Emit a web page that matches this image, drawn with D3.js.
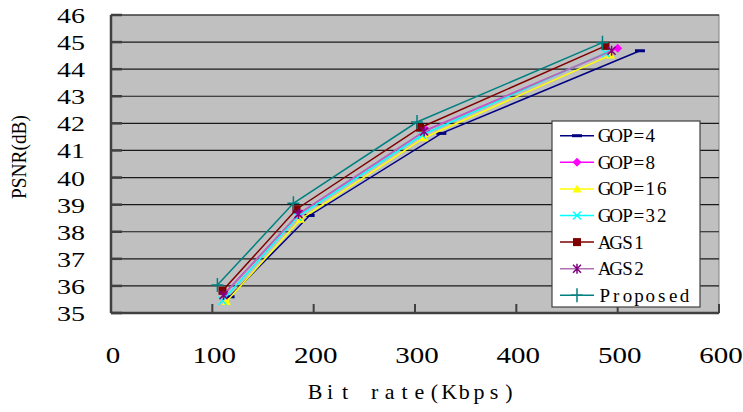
<!DOCTYPE html>
<html>
<head>
<meta charset="utf-8">
<script src="https://cdn.jsdelivr.net/npm/d3@7"></script>
<style>
  html, body { margin: 0; padding: 0; background: #fff; }
  svg { display: block; }
  .serif { font-family: "Liberation Serif", "Times New Roman", "DejaVu Serif", serif; }
</style>
</head>
<body>
<svg id="chart" width="743" height="412"></svg>
<script>
// ---- data ----
const xTicks = [0, 100, 200, 300, 400, 500, 600];
const yTicks = [35, 36, 37, 38, 39, 40, 41, 42, 43, 44, 45, 46];
const seriesNames = ["GOP=4", "GOP=8", "GOP=16", "GOP=32", "AGS1", "AGS2", "Proposed"];
const gop4X = [117, 196, 326, 522];
const gop4Y = [35.60, 38.60, 41.63, 44.68];
const gop8X = [112, 186, 311, 500];
const gop8Y = [35.72, 38.68, 41.75, 44.77];
const gop16X = [114, 187, 309, 493];
const gop16Y = [35.42, 38.46, 41.47, 44.52];
const gop32X = [110, 184, 307, 488];
const gop32Y = [35.45, 38.55, 41.57, 44.60];
const ags1X = [110, 183, 305, 488];
const ags1Y = [35.82, 38.83, 41.84, 44.86];
const ags2X = [111, 185, 309, 494];
const ags2Y = [35.66, 38.65, 41.70, 44.68];
const propX = [105, 180, 302, 485];
const propY = [36.03, 39.05, 42.05, 44.98];

const seriesX = [gop4X, gop8X, gop16X, gop32X, ags1X, ags2X, propX];
const seriesY = [gop4Y, gop8Y, gop16Y, gop32Y, ags1Y, ags2Y, propY];

// ---- styles ----
const lineColors = ["#000080", "#FF00FF", "#FFFF00", "#00FFFF", "#800000", "#B070B0", "#008080"];
const markColors = ["#000080", "#FF00FF", "#FFFF00", "#00FFFF", "#800000", "#800080", "#008080"];
const markTypes = ["dash", "diamond", "triangle", "x", "square", "star", "plus"];

const svg = d3.select("#chart");
const pLeft = 111, pRight = 719, pTop = 15, pBottom = 313;
const x = d3.scaleLinear().domain([0, 600]).range([pLeft, pRight]);
const y = d3.scaleLinear().domain([35, 46]).range([pBottom, pTop]);

// monospaced (half-width cell) text, like a CJK font's Latin glyphs
function monoText(parent, str, x0, baseline, cell, size) {
  const t = parent.append("text").attr("class", "serif")
    .attr("font-size", size).attr("y", baseline).attr("text-anchor", "middle").attr("fill", "#000");
  str.split("").forEach((ch, i) => {
    t.append("tspan").attr("x", x0 + i * cell + cell / 2).text(ch);
  });
  return t;
}

// plot area
svg.append("rect").attr("x", pLeft).attr("y", pTop)
  .attr("width", pRight - pLeft).attr("height", pBottom - pTop)
  .attr("fill", "#C0C0C0").attr("stroke", "#808080").attr("stroke-width", 1);

// gridlines
svg.append("g").selectAll("line").data(yTicks.filter(d => d > 35)).join("line")
  .attr("x1", pLeft).attr("x2", pRight)
  .attr("y1", d => y(d)).attr("y2", d => y(d))
  .attr("stroke", "#1a1a1a").attr("stroke-width", 1.2);

// axes lines
svg.append("line").attr("x1", pLeft).attr("x2", pLeft).attr("y1", pTop).attr("y2", pBottom)
  .attr("stroke", "#404040").attr("stroke-width", 2.5);
svg.append("line").attr("x1", pLeft).attr("x2", pRight).attr("y1", pBottom).attr("y2", pBottom)
  .attr("stroke", "#404040").attr("stroke-width", 2.5);

// tick marks (inside)
svg.append("g").selectAll("line").data(yTicks).join("line")
  .attr("x1", pLeft).attr("x2", pLeft + 11)
  .attr("y1", d => y(d)).attr("y2", d => y(d))
  .attr("stroke", "#404040").attr("stroke-width", 2.5);
svg.append("g").selectAll("line").data(xTicks).join("line")
  .attr("x1", d => x(d)).attr("x2", d => x(d))
  .attr("y1", pBottom).attr("y2", pBottom - 9)
  .attr("stroke", "#404040").attr("stroke-width", 2);

// tick labels
svg.append("g").selectAll("text").data(yTicks).join("text")
  .attr("class", "serif")
  .attr("x", 85).attr("y", d => y(d) + 8)
  .attr("text-anchor", "end")
  .attr("font-size", 22)
  .attr("textLength", d => String(d).length * 14).attr("lengthAdjust", "spacingAndGlyphs")
  .attr("fill", "#000")
  .text(d => d);
svg.append("g").selectAll("text").data(xTicks).join("text")
  .attr("class", "serif")
  .attr("x", d => x(d) + 2).attr("y", 363)
  .attr("text-anchor", "middle")
  .attr("font-size", 23)
  .attr("textLength", d => String(d).length * 14.5).attr("lengthAdjust", "spacingAndGlyphs")
  .attr("fill", "#000")
  .text(d => d);

// axis titles
svg.append("text").attr("class", "serif")
  .attr("transform", "translate(26,157) rotate(-90)")
  .attr("text-anchor", "middle")
  .attr("font-size", 21)
  .attr("textLength", 84).attr("lengthAdjust", "spacingAndGlyphs")
  .text("PSNR(dB)");
const xTitle = "Bit rate(Kbps)";
monoText(svg, xTitle, 412 - xTitle.length * 14.9 / 2, 399, 14.9, 22);

// marker drawing
function drawMarker(g, type, color, cx, cy) {
  if (type === "dash") {
    g.append("rect").attr("x", cx - 5).attr("y", cy - 1.5).attr("width", 10).attr("height", 3).attr("fill", color);
  } else if (type === "diamond") {
    g.append("path").attr("d", `M${cx},${cy-4.5}L${cx+4.5},${cy}L${cx},${cy+4.5}L${cx-4.5},${cy}Z`).attr("fill", color);
  } else if (type === "triangle") {
    g.append("path").attr("d", `M${cx},${cy-4.5}L${cx+4.5},${cy+3.5}L${cx-4.5},${cy+3.5}Z`).attr("fill", color);
  } else if (type === "x") {
    g.append("path").attr("d", `M${cx-4},${cy-4}L${cx+4},${cy+4}M${cx-4},${cy+4}L${cx+4},${cy-4}`)
      .attr("stroke", color).attr("stroke-width", 1.5);
  } else if (type === "square") {
    g.append("rect").attr("x", cx - 4).attr("y", cy - 4).attr("width", 8).attr("height", 8).attr("fill", color);
  } else if (type === "star") {
    g.append("path").attr("d", `M${cx-4},${cy-4}L${cx+4},${cy+4}M${cx-4},${cy+4}L${cx+4},${cy-4}M${cx},${cy-5}L${cx},${cy+5}`)
      .attr("stroke", color).attr("stroke-width", 1.5);
  } else if (type === "plus") {
    g.append("path").attr("d", `M${cx-6},${cy}L${cx+6},${cy}M${cx},${cy-7}L${cx},${cy+7}`)
      .attr("stroke", color).attr("stroke-width", 1.5);
  }
}

// series
const lineGen = d3.line().x(d => x(d[0])).y(d => y(d[1]));
seriesNames.forEach((name, i) => {
  const pts = seriesX[i].map((v, j) => [v, seriesY[i][j]]);
  const g = svg.append("g");
  g.append("path").attr("d", lineGen(pts)).attr("fill", "none")
    .attr("stroke", lineColors[i]).attr("stroke-width", 1.5);
  pts.forEach(p => drawMarker(g, markTypes[i], markColors[i], x(p[0]), y(p[1])));
});

// legend
const lg = svg.append("g");
lg.append("rect").attr("x", 552).attr("y", 121).attr("width", 148).attr("height", 186)
  .attr("fill", "#fff").attr("stroke", "#404040").attr("stroke-width", 1.2);
seriesNames.forEach((name, i) => {
  const cy = 135.7 + i * 26.6;
  lg.append("line").attr("x1", 560).attr("x2", 594).attr("y1", cy).attr("y2", cy)
    .attr("stroke", lineColors[i]).attr("stroke-width", 1.5);
  drawMarker(lg, markTypes[i], markColors[i], 577, cy);
  monoText(lg, name, 599, cy + 6.5, 11.4, 19);
});
</script>
</body>
</html>
